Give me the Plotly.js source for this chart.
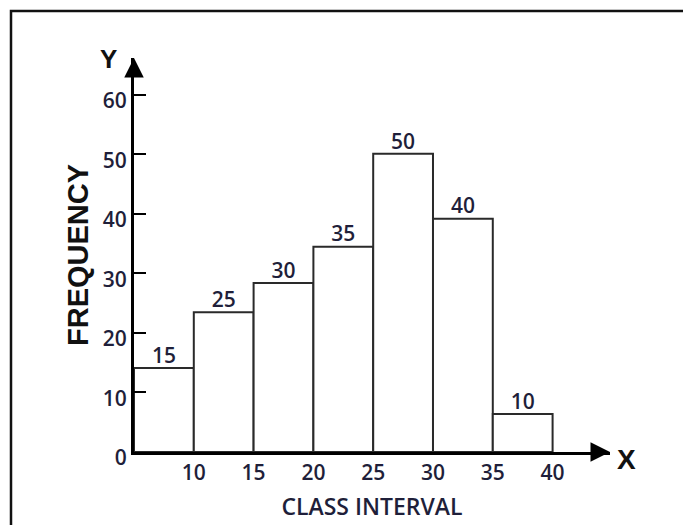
<!DOCTYPE html>
<html>
<head>
<meta charset="utf-8">
<script src="https://cdn.plot.ly/plotly-3.0.1.min.js"></script>
<style>
  html, body { margin: 0; padding: 0; background: #fff; }
  #chart { width: 683px; height: 525px; }
</style>
</head>
<body>
<div id="chart"></div>
<script>
// ---- data ----
const classStarts = [5, 10, 15, 20, 25, 30, 35];
const classEnds = [10, 15, 20, 25, 30, 35, 40];
const barHeights = [14.1, 23.5, 28.4, 34.5, 50.1, 39.2, 6.4];   // as drawn
const freqLabels = ['15', '25', '30', '35', '50', '40', '10'];   // as written
const xTickVals = [10, 15, 20, 25, 30, 35, 40];
const xTickText = ['10', '15', '20', '25', '30', '35', '40'];
const yTickVals = [0, 10, 20, 30, 40, 50, 60];
const yTickText = ['0', '10', '20', '30', '40', '50', '60'];

const xMax = 44.8, yMax = 66.2;
const mids = classStarts.map((s, i) => (s + classEnds[i]) / 2);
const widths = classStarts.map((s, i) => classEnds[i] - s);

const numFont = { family: 'Open Sans, sans-serif', size: 21, color: '#1f1f3a', weight: 600 };

const bars = {
  type: 'bar', x: mids, y: barHeights, width: widths,
  marker: { color: '#ffffff', line: { color: '#2a2a2a', width: 2 } },
  hoverinfo: 'skip', showlegend: false
};
const labels = {
  type: 'scatter', mode: 'text', x: mids, y: barHeights, text: freqLabels,
  textposition: 'top center', textfont: numFont,
  hoverinfo: 'skip', showlegend: false, cliponaxis: false
};

const layout = {
  width: 683, height: 525, autosize: false,
  margin: { l: 134, r: 73, t: 58, b: 73, pad: 0 },
  paper_bgcolor: '#ffffff', plot_bgcolor: '#ffffff',
  bargap: 0,
  xaxis: {
    range: [5, xMax], showgrid: false, zeroline: false,
    showline: true, linewidth: 3, linecolor: '#000',
    tickvals: xTickVals, ticktext: xTickText, ticks: '',
    tickfont: numFont, ticklabelstandoff: 0,
    title: { text: 'CLASS INTERVAL', font: { family: 'Open Sans, sans-serif', size: 23, color: '#1f1f3a', weight: 600 }, standoff: 14 }
  },
  yaxis: {
    range: [0, yMax], showgrid: false, zeroline: false,
    showline: true, linewidth: 3, linecolor: '#000',
    tickvals: yTickVals, ticktext: yTickText,
    ticks: 'inside', ticklen: 12, tickwidth: 2, tickcolor: '#000',
    tickfont: numFont, ticklabelstandoff: 0, ticklabelshift: 6,
    title: { text: 'FREQUENCY', font: { family: 'Liberation Sans, Arial, sans-serif', size: 29, color: '#111', weight: 700 }, standoff: 6 }
  },
  shapes: [{
    type: 'rect', xref: 'paper', yref: 'paper',
    x0: (11 - 134) / 476, x1: 1.3, y0: -0.3, y1: (452 - 11) / 394,
    line: { color: '#111', width: 2.5 }, fillcolor: 'rgba(0,0,0,0)', layer: 'below'
  }],
  annotations: [
    { x: xMax, y: 0, ax: xMax - 1.5, ay: 0, axref: 'x', ayref: 'y', xref: 'x', yref: 'y',
      showarrow: true, arrowhead: 2, arrowsize: 1.3, arrowwidth: 3, arrowcolor: '#000', text: '' },
    { x: 5, y: yMax, ax: 5, ay: yMax - 3, axref: 'x', ayref: 'y', xref: 'x', yref: 'y',
      showarrow: true, arrowhead: 2, arrowsize: 1.3, arrowwidth: 3, arrowcolor: '#000', text: '' },
    { x: 5, y: yMax, xref: 'x', yref: 'y', xshift: -26, yshift: -1, showarrow: false, text: 'Y',
      font: { family: 'Liberation Sans, Arial, sans-serif', size: 26, color: '#111', weight: 700 } },
    { x: xMax, y: 0, xref: 'x', yref: 'y', xshift: 16, yshift: -7, showarrow: false, text: 'X',
      font: { family: 'Liberation Sans, Arial, sans-serif', size: 28, color: '#111', weight: 700 } }
  ]
};

Plotly.newPlot('chart', [bars, labels], layout, { displayModeBar: false, staticPlot: true });
</script>
</body>
</html>
